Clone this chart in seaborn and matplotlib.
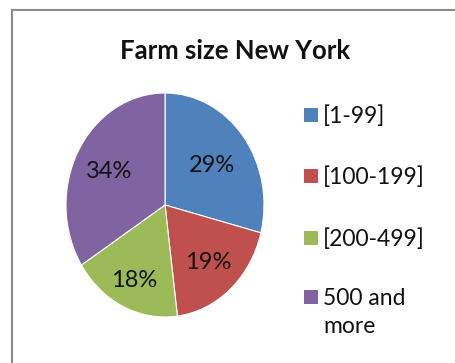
import matplotlib
matplotlib.use("Agg")
import matplotlib.pyplot as plt
from matplotlib.patches import Rectangle
import numpy as np
import seaborn as sns

# Farm size distribution (share of farms, %)
categories = ["[1-99]", "[100-199]", "[200-499]", "500 and\nmore"]
shares = [29, 19, 18, 34]
colors = ["#4F81BD", "#C0504D", "#9BBB59", "#8064A2"]
title = "Farm size New York"

# radial placement of each percentage label (fraction of radius)
label_radius = [0.60, 0.66, 0.73, 0.65]

sns.set_theme(style="white")
plt.rcParams["font.family"] = ["Lato", "DejaVu Sans"]

W, H = 455, 363
fig = plt.figure(figsize=(W / 100, H / 100), dpi=100)
fig.patch.set_facecolor("white")


def fx(x):
    return x / W


def fy(y):
    return 1 - y / H


# chart frame
fig.add_artist(Rectangle((fx(12), fy(375)), fx(460), fy(10) - fy(375),
                         transform=fig.transFigure, fill=False,
                         edgecolor="#8a8a8a", linewidth=1.5))

# pie, slightly taller than wide
ax = fig.add_axes([fx(66), fy(317), fx(198), fy(93) - fy(317)])
wedges, texts, autotexts = ax.pie(
    shares, colors=colors, startangle=90, counterclock=False,
    autopct=lambda p: f"{p:.0f}%", pctdistance=0.66,
    wedgeprops=dict(edgecolor="white", linewidth=0.8),
    textprops=dict(fontsize=17, color="#111111"),
)
for wd, txt, r in zip(wedges, autotexts, label_radius):
    mid = np.deg2rad((wd.theta1 + wd.theta2) / 2)
    txt.set_position((r * np.cos(mid), r * np.sin(mid)))
    txt.set_va("center_baseline")
ax.set_aspect("auto")
ax.set_xlim(-1, 1)
ax.set_ylim(-1, 1)
ax.axis("off")

fig.text(fx(235), fy(59), title, ha="center", va="baseline",
         fontsize=18.5, fontweight="bold", color="#111111")

# legend: squares beside the first line of each label
baselines = [123, 184, 246, 305]
line_step = 28
for cat, col, base in zip(categories, colors, baselines):
    fig.add_artist(Rectangle((fx(304), fy(base - 1)), fx(14), fy(base - 15) - fy(base - 1),
                             transform=fig.transFigure, facecolor=col,
                             edgecolor="none"))
    for k, line in enumerate(cat.split("\n")):
        fig.text(fx(323), fy(base + k * line_step), line, ha="left",
                 va="baseline", fontsize=16.5, color="#111111")

fig.savefig("out.png", dpi=100)
